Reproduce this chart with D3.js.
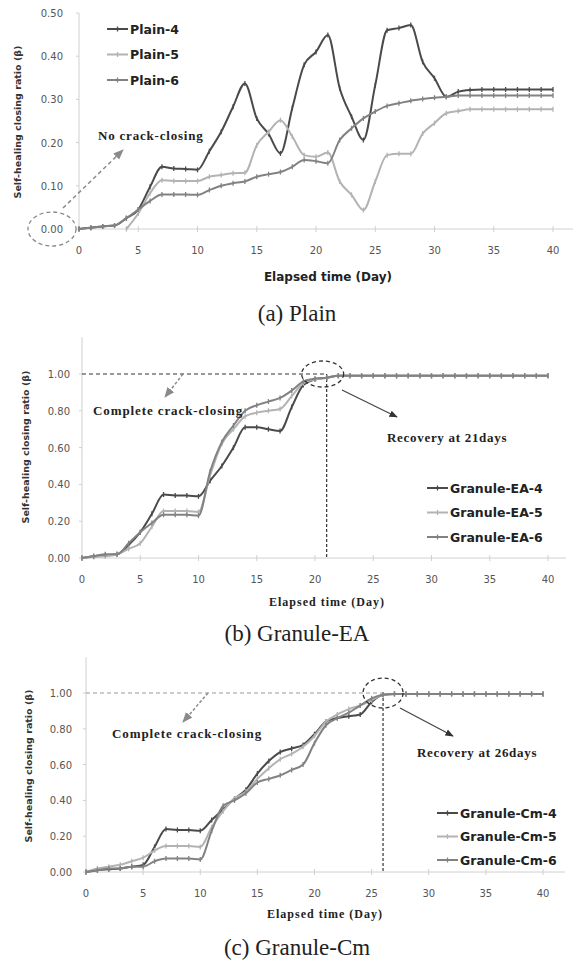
<!DOCTYPE html>
<html>
<head>
<meta charset="utf-8">
<script src="https://cdn.jsdelivr.net/npm/d3@7"></script>
<style>
  body { margin: 0; background: #fff; }
  svg { display: block; }
</style>
</head>
<body>
<div id="chart"></div>
<script>
// ---- data ----
const days = [0,1,2,3,4,5,6,7,8,9,10,11,12,13,14,15,16,17,18,19,20,
              21,22,23,24,25,26,27,28,29,30,31,32,33,34,35,36,37,38,39,40];

// (a) Plain
const plain4 = [0,0.003,0.006,0.008,0.025,0.045,0.098,0.144,0.14,0.139,0.137,0.18,0.225,0.283,0.337,0.256,0.22,0.175,0.28,0.38,0.41,
                0.449,0.326,0.26,0.206,0.333,0.46,0.465,0.472,0.387,0.349,0.306,0.318,0.322,0.323,0.323,0.323,0.323,0.323,0.323,0.323];
const plain5 = [null,null,null,null,0,0.036,0.083,0.113,0.111,0.111,0.111,0.121,0.125,0.129,0.13,0.194,0.225,0.252,0.214,0.171,0.167,
                0.177,0.11,0.079,0.044,0.11,0.171,0.174,0.174,0.221,0.245,0.268,0.273,0.277,0.277,0.277,0.277,0.277,0.277,0.277,0.277];
const plain6 = [0,0.003,0.006,0.008,0.025,0.045,0.065,0.08,0.08,0.08,0.079,0.09,0.1,0.106,0.11,0.121,0.127,0.132,0.144,0.16,0.157,
                0.152,0.206,0.233,0.256,0.272,0.285,0.291,0.297,0.301,0.304,0.306,0.309,0.309,0.309,0.309,0.309,0.309,0.309,0.309,0.309];

// (b) Granule-EA
const ea4 = [0,0.01,0.015,0.02,0.07,0.14,0.24,0.345,0.34,0.34,0.335,0.42,0.5,0.6,0.71,0.71,0.7,0.69,0.82,0.94,0.97,
             0.98,0.99,0.99,0.99,0.99,0.99,0.99,0.99,0.99,0.99,0.99,0.99,0.99,0.99,0.99,0.99,0.99,0.99,0.99,0.99];
const ea5 = [0,0.005,0.01,0.02,0.05,0.08,0.17,0.255,0.255,0.255,0.25,0.45,0.62,0.7,0.77,0.79,0.8,0.81,0.88,0.95,0.97,
             0.98,0.99,0.99,0.99,0.99,0.99,0.99,0.99,0.99,0.99,0.99,0.99,0.99,0.99,0.99,0.99,0.99,0.99,0.99,0.99];
const ea6 = [0,0.01,0.02,0.02,0.08,0.14,0.19,0.235,0.235,0.235,0.23,0.47,0.63,0.72,0.8,0.83,0.85,0.87,0.91,0.96,0.975,
             0.98,0.99,0.99,0.99,0.99,0.99,0.99,0.99,0.99,0.99,0.99,0.99,0.99,0.99,0.99,0.99,0.99,0.99,0.99,0.99];

// (c) Granule-Cm
const cm4 = [0,0.01,0.015,0.02,0.03,0.04,0.14,0.24,0.235,0.235,0.23,0.29,0.35,0.41,0.46,0.55,0.62,0.67,0.69,0.71,0.77,
             0.84,0.86,0.87,0.88,0.95,0.99,0.995,0.995,0.995,0.995,0.995,0.995,0.995,0.995,0.995,0.995,0.995,0.995,0.995,0.995];
const cm5 = [0,0.02,0.03,0.04,0.06,0.08,0.12,0.145,0.145,0.145,0.14,0.25,0.34,0.41,0.45,0.52,0.58,0.63,0.66,0.7,0.76,
             0.84,0.88,0.91,0.93,0.96,0.99,0.995,0.995,0.995,0.995,0.995,0.995,0.995,0.995,0.995,0.995,0.995,0.995,0.995,0.995];
const cm6 = [0,0.01,0.02,0.02,0.03,0.03,0.06,0.075,0.075,0.075,0.07,0.23,0.37,0.4,0.44,0.5,0.52,0.54,0.57,0.6,0.72,
             0.82,0.86,0.89,0.93,0.97,0.99,0.995,0.995,0.995,0.995,0.995,0.995,0.995,0.995,0.995,0.995,0.995,0.995,0.995,0.995];

const xTicks = [0,5,10,15,20,25,30,35,40];
const yTicksA = [0,0.1,0.2,0.3,0.4,0.5];
const yTicksBC = [0,0.2,0.4,0.6,0.8,1.0];

const colors = ["#4a4a4a", "#b3b3b3", "#828282"];

const SANS = "'DejaVu Sans', Verdana, sans-serif";
const SERIF = "'Liberation Serif', 'Times New Roman', serif";

const svg = d3.select("#chart").append("svg")
    .attr("width", 576)
    .attr("height", 960);

// arrow heads
const defs = svg.append("defs");
[["arrGray", "#8a8a8a"], ["arrDark", "#333"]].forEach(([id, c]) => {
    defs.append("marker")
        .attr("id", id)
        .attr("viewBox", "0 0 10 10")
        .attr("refX", 9).attr("refY", 5)
        .attr("markerWidth", 7).attr("markerHeight", 7)
        .attr("orient", "auto")
        .append("path")
        .attr("d", "M0,1 L10,5 L0,9 Z")
        .attr("fill", c);
});

// serif bold annotation text
function note(g, x, y, size, spacing, txt) {
    g.append("text")
        .attr("x", x).attr("y", y)
        .style("font-family", SERIF).style("font-weight", "bold")
        .style("font-size", size + "px").style("letter-spacing", spacing + "px")
        .style("fill", "#222")
        .text(txt);
}

function drawPanel(p) {
    let x = d3.scaleLinear().domain([0, 40]).range([p.x0, p.x1]);
    let y = d3.scaleLinear().domain([0, p.yMax]).range([p.yBottom, p.yTop]);
    let g = svg.append("g");

    // axis lines
    g.append("line")
        .attr("x1", p.x0).attr("x2", p.axisEnd)
        .attr("y1", p.yBottom).attr("y2", p.yBottom)
        .attr("stroke", "#d0d0d0");
    g.append("line")
        .attr("x1", p.x0).attr("x2", p.x0)
        .attr("y1", p.yBottom).attr("y2", p.yTop)
        .attr("stroke", "#d0d0d0");

    // x ticks
    g.selectAll(".xt").data(xTicks).enter().append("line")
        .attr("x1", d => x(d)).attr("x2", d => x(d))
        .attr("y1", p.yBottom - 3).attr("y2", p.yBottom + 3)
        .attr("stroke", "#d0d0d0");
    g.selectAll(".xl").data(xTicks).enter().append("text")
        .attr("x", d => x(d))
        .attr("y", p.yBottom + p.xLabelOff)
        .attr("text-anchor", "middle")
        .style("font-family", SANS).style("font-size", "10px").style("fill", "#555")
        .text(d => d);

    // y ticks
    g.selectAll(".yt").data(p.yTicks).enter().append("line")
        .attr("x1", p.x0 - 3).attr("x2", p.x0)
        .attr("y1", d => y(d)).attr("y2", d => y(d))
        .attr("stroke", "#d0d0d0");
    g.selectAll(".yl").data(p.yTicks).enter().append("text")
        .attr("x", p.x0 - p.yLabelGap)
        .attr("y", d => y(d) + 4)
        .attr("text-anchor", "end")
        .style("font-family", SANS).style("font-size", "10px").style("fill", "#555")
        .text(d => d3.format(".2f")(d));

    // axis titles
    if (p.xTitleFont === SANS) {
        g.append("text")
            .attr("x", p.xTitle[0]).attr("y", p.xTitle[1])
            .attr("text-anchor", "middle")
            .style("font-family", SANS).style("font-weight", "bold")
            .style("font-size", "12px").style("fill", "#222")
            .text("Elapsed time (Day)");
    } else {
        g.append("text")
            .attr("x", p.xTitle[0]).attr("y", p.xTitle[1])
            .attr("text-anchor", "middle")
            .style("font-family", SERIF).style("font-weight", "bold")
            .style("font-size", "12px").style("letter-spacing", "1px").style("fill", "#222")
            .text("Elapsed time (Day)");
    }
    g.append("text")
        .attr("transform", "translate(" + p.yTitle[0] + "," + p.yTitle[1] + ") rotate(-90)")
        .attr("text-anchor", "middle")
        .style("font-family", SANS).style("font-weight", "bold")
        .style("font-size", "9.5px").style("fill", "#333")
        .text("Self-healing closing ratio (β)");

    // reference lines (b, c)
    if (p.recovery !== undefined) {
        g.append("line")
            .attr("x1", x(0)).attr("x2", x(p.recovery))
            .attr("y1", y(1)).attr("y2", y(1))
            .attr("stroke", p.refColor).attr("stroke-width", 1.2)
            .attr("stroke-dasharray", "4,3");
        g.append("line")
            .attr("x1", x(p.recovery)).attr("x2", x(p.recovery))
            .attr("y1", y(1)).attr("y2", y(0))
            .attr("stroke", "#333").attr("stroke-width", 1.2)
            .attr("stroke-dasharray", "3,2");
    }

    // series lines
    let line = d3.line()
        .defined(d => d[1] !== null)
        .x(d => x(d[0]))
        .y(d => y(d[1]))
        .curve(d3.curveMonotoneX);

    p.series.forEach((s, i) => {
        let pts = days.map((d, k) => [d, s[k]]);
        g.append("path")
            .datum(pts)
            .attr("d", line)
            .attr("fill", "none")
            .attr("stroke", colors[i])
            .attr("stroke-width", 2);
        g.selectAll(".m" + i)
            .data(pts.filter(d => d[1] !== null))
            .enter().append("line")
            .attr("x1", d => x(d[0])).attr("x2", d => x(d[0]))
            .attr("y1", d => y(d[1]) - 2.5).attr("y2", d => y(d[1]) + 2.5)
            .attr("stroke", colors[i]).attr("stroke-width", 1.3);
    });

    // legend
    p.names.forEach((n, i) => {
        let ly = p.legend[1] + i * p.legend[2];
        g.append("line")
            .attr("x1", p.legend[0]).attr("x2", p.legend[0] + 21)
            .attr("y1", ly).attr("y2", ly)
            .attr("stroke", colors[i]).attr("stroke-width", 2);
        g.append("line")
            .attr("x1", p.legend[0] + 10.5).attr("x2", p.legend[0] + 10.5)
            .attr("y1", ly - 2.5).attr("y2", ly + 2.5)
            .attr("stroke", colors[i]).attr("stroke-width", 1.3);
        g.append("text")
            .attr("x", p.legend[0] + 23).attr("y", ly + 4.5)
            .style("font-family", SANS).style("font-weight", "bold")
            .style("font-size", "12.5px").style("fill", "#222")
            .text(n);
    });

    // caption
    svg.append("text")
        .attr("x", 297).attr("y", p.caption[1])
        .attr("text-anchor", "middle")
        .style("font-family", SERIF).style("font-size", "23px").style("fill", "#222")
        .text(p.caption[0]);

    return {x: x, y: y, g: g};
}

// (a) Plain
let a = drawPanel({
    x0: 79, x1: 553, axisEnd: 573, yBottom: 229, yTop: 13, yMax: 0.5,
    yTicks: yTicksA, yLabelGap: 16, xLabelOff: 25,
    xTitle: [328, 281], xTitleFont: SANS, yTitle: [21, 122],
    series: [plain4, plain5, plain6], names: ["Plain-4", "Plain-5", "Plain-6"],
    legend: [107, 29, 25.5], caption: ["(a) Plain", 321]
});
a.g.append("ellipse")
    .attr("cx", a.x(0) - 27).attr("cy", a.y(0))
    .attr("rx", 24).attr("ry", 17)
    .attr("fill", "none").attr("stroke", "#8a8a8a").attr("stroke-width", 1.3)
    .attr("stroke-dasharray", "4,3");
a.g.append("line")
    .attr("x1", 63).attr("y1", 208).attr("x2", 123).attr("y2", 150)
    .attr("stroke", "#8a8a8a").attr("stroke-width", 1.5).attr("stroke-dasharray", "4,3")
    .attr("marker-end", "url(#arrGray)");
note(a.g, 98, 140, 13, 0.8, "No crack-closing");

// (b) Granule-EA
let b = drawPanel({
    x0: 82, x1: 548, axisEnd: 566, yBottom: 558, yTop: 337.2, yMax: 1.2,
    yTicks: yTicksBC, yLabelGap: 12, xLabelOff: 25,
    xTitle: [327, 606], xTitleFont: SERIF, yTitle: [29, 447],
    series: [ea4, ea5, ea6], names: ["Granule-EA-4", "Granule-EA-5", "Granule-EA-6"],
    legend: [427, 488, 24.5], caption: ["(b) Granule-EA", 641],
    recovery: 21, refColor: "#333"
});
b.g.append("ellipse")
    .attr("cx", b.x(21) - 4).attr("cy", b.y(1))
    .attr("rx", 21).attr("ry", 13)
    .attr("fill", "none").attr("stroke", "#333").attr("stroke-width", 1.3)
    .attr("stroke-dasharray", "4,3");
b.g.append("line")
    .attr("x1", 342).attr("y1", 390).attr("x2", 397).attr("y2", 417)
    .attr("stroke", "#444").attr("stroke-width", 1.2)
    .attr("marker-end", "url(#arrDark)");
note(b.g, 387, 442, 13, 0.7, "Recovery at 21days");
b.g.append("line")
    .attr("x1", 183).attr("y1", 374).attr("x2", 165).attr("y2", 397)
    .attr("stroke", "#8a8a8a").attr("stroke-width", 1.5).attr("stroke-dasharray", "3,2")
    .attr("marker-end", "url(#arrGray)");
note(b.g, 93, 415, 13, 0.9, "Complete crack-closing");

// (c) Granule-Cm
let c = drawPanel({
    x0: 86, x1: 543, axisEnd: 565, yBottom: 872, yTop: 657.2, yMax: 1.2,
    yTicks: yTicksBC, yLabelGap: 14, xLabelOff: 25,
    xTitle: [325, 918], xTitleFont: SERIF, yTitle: [32, 766],
    series: [cm4, cm5, cm6], names: ["Granule-Cm-4", "Granule-Cm-5", "Granule-Cm-6"],
    legend: [437, 813, 23.5], caption: ["(c) Granule-Cm", 955],
    recovery: 26, refColor: "#9a9a9a"
});
c.g.append("ellipse")
    .attr("cx", c.x(26)).attr("cy", c.y(1))
    .attr("rx", 20).attr("ry", 15)
    .attr("fill", "none").attr("stroke", "#333").attr("stroke-width", 1.3)
    .attr("stroke-dasharray", "4,3");
c.g.append("line")
    .attr("x1", 400).attr("y1", 708).attr("x2", 453).attr("y2", 736)
    .attr("stroke", "#444").attr("stroke-width", 1.2)
    .attr("marker-end", "url(#arrDark)");
note(c.g, 417, 757, 13, 0.7, "Recovery at 26days");
c.g.append("line")
    .attr("x1", 208).attr("y1", 693).attr("x2", 183).attr("y2", 722)
    .attr("stroke", "#8a8a8a").attr("stroke-width", 1.5).attr("stroke-dasharray", "3,2")
    .attr("marker-end", "url(#arrGray)");
note(c.g, 112, 738, 13, 0.9, "Complete crack-closing");
</script>
</body>
</html>
